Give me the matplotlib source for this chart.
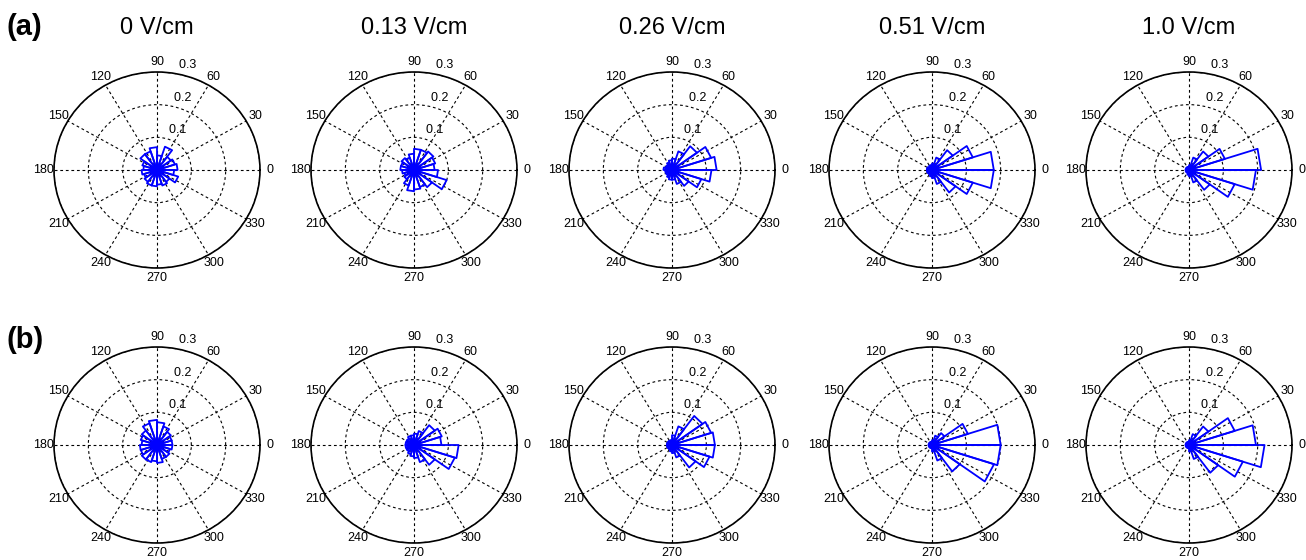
import numpy as np
import matplotlib
matplotlib.use("Agg")
import matplotlib.pyplot as plt

plt.rcParams['font.family'] = ['Liberation Sans', 'DejaVu Sans']

# field strengths (column titles)
fields = ['0 V/cm', '0.13 V/cm', '0.26 V/cm', '0.51 V/cm', '1.0 V/cm']

# 20 bins of 18 deg, bin k spans 18k..18(k+1) degrees, fraction of cells
a_0 = [0.060, 0.055, 0.050, 0.075, 0.045, 0.070, 0.060, 0.060, 0.045, 0.040,
       0.045, 0.040, 0.045, 0.050, 0.050, 0.045, 0.050, 0.045, 0.065, 0.050]
a_013 = [0.060, 0.065, 0.070, 0.065, 0.065, 0.050, 0.040, 0.045, 0.040, 0.040,
         0.035, 0.030, 0.035, 0.050, 0.065, 0.060, 0.055, 0.065, 0.100, 0.070]
a_026 = [0.130, 0.120, 0.090, 0.060, 0.035, 0.030, 0.025, 0.020, 0.020, 0.025,
         0.020, 0.020, 0.020, 0.025, 0.030, 0.030, 0.045, 0.060, 0.090, 0.115]
a_051 = [0.180, 0.125, 0.075, 0.040, 0.020, 0.015, 0.015, 0.010, 0.015, 0.015,
         0.015, 0.015, 0.015, 0.015, 0.020, 0.025, 0.045, 0.085, 0.125, 0.180]
a_10 = [0.210, 0.110, 0.070, 0.040, 0.015, 0.010, 0.010, 0.010, 0.010, 0.010,
        0.010, 0.010, 0.010, 0.010, 0.015, 0.020, 0.040, 0.075, 0.140, 0.195]

b_0 = [0.045, 0.045, 0.050, 0.060, 0.070, 0.077, 0.070, 0.055, 0.050, 0.045,
       0.050, 0.050, 0.055, 0.055, 0.050, 0.055, 0.045, 0.045, 0.040, 0.045]
b_013 = [0.080, 0.085, 0.075, 0.045, 0.035, 0.030, 0.030, 0.025, 0.025, 0.025,
         0.025, 0.025, 0.025, 0.030, 0.035, 0.040, 0.055, 0.075, 0.125, 0.130]
b_026 = [0.125, 0.120, 0.110, 0.060, 0.030, 0.015, 0.015, 0.015, 0.015, 0.015,
         0.015, 0.015, 0.015, 0.015, 0.020, 0.025, 0.040, 0.085, 0.115, 0.125]
b_051 = [0.200, 0.110, 0.045, 0.030, 0.015, 0.010, 0.010, 0.010, 0.010, 0.010,
         0.010, 0.010, 0.010, 0.010, 0.010, 0.020, 0.050, 0.100, 0.190, 0.200]
b_10 = [0.195, 0.140, 0.070, 0.035, 0.015, 0.010, 0.010, 0.010, 0.010, 0.010,
        0.010, 0.010, 0.010, 0.010, 0.010, 0.020, 0.045, 0.105, 0.165, 0.220]

rows = [[a_0, a_013, a_026, a_051, a_10],
        [b_0, b_013, b_026, b_051, b_10]]
row_labels = ['(a)', '(b)']

W, H = 1306, 560
fig = plt.figure(figsize=(W / 100, H / 100), dpi=100)

cx = [157, 414, 672, 932, 1189]
cy = [170, 445]
rx, ry = 103, 98
rmax = 0.3

for j, row in enumerate(rows):
    for i, vals in enumerate(row):
        ax = fig.add_axes([(cx[i] - rx) / W, 1 - (cy[j] + ry) / H, 2 * rx / W, 2 * ry / H],
                          projection='polar')
        ax.set_aspect('auto')
        ax.set_ylim(0, rmax)
        ax.set_thetagrids(range(0, 360, 30), labels=[''] * 12)
        ax.set_rgrids([0.1, 0.2, 0.3], labels=[''] * 3)
        ax.grid(True, color='k', linestyle=(0, (2.5, 2.5)), linewidth=0.8)
        ax.tick_params(length=0)
        ax.spines['polar'].set_linewidth(1.2)
        ax.spines['polar'].set_color('k')

        # rose petals, MATLAB style
        n = len(vals)
        edges = np.deg2rad(np.arange(n + 1) * 360.0 / n)
        for k, v in enumerate(vals):
            ax.plot([0, edges[k], edges[k + 1], 0], [0, v, v, 0],
                    color='#0000ff', linewidth=1.3, clip_on=False)

        for a in range(0, 360, 30):
            ax.text(np.deg2rad(a), rmax * 1.1, str(a), ha='center', va='center',
                    fontsize=9)
        for r in [0.1, 0.2, 0.3]:
            ax.text(np.deg2rad(82), r + 0.005, '  %.1f' % r, ha='left', va='bottom',
                    fontsize=9)

        if j == 0:
            fig.text(cx[i] / W, 1 - 28 / H, fields[i], ha='center', va='center',
                     fontsize=17)

fig.text(7 / W, 1 - 27 / H, row_labels[0], ha='left', va='center', fontsize=21,
         fontweight='bold')
fig.text(7 / W, 1 - 340 / H, row_labels[1], ha='left', va='center', fontsize=21,
         fontweight='bold')

fig.savefig('out.png', dpi=100)
